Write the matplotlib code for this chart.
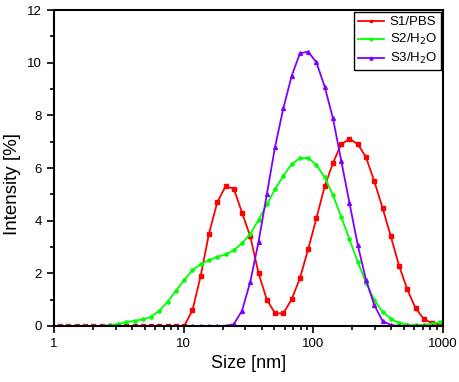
import numpy as np
import matplotlib.pyplot as plt
from matplotlib.ticker import MultipleLocator, LogLocator, FixedLocator

plt.rcParams['font.family'] = ['Liberation Sans', 'DejaVu Sans']

# size bins (nm)
size = [0.9649, 1.117, 1.294, 1.499, 1.736, 2.010, 2.328, 2.696, 3.122, 3.615,
        4.187, 4.849, 5.615, 6.503, 7.531, 8.721, 10.10, 11.70, 13.54, 15.69,
        18.17, 21.04, 24.36, 28.21, 32.67, 37.84, 43.82, 50.75, 58.77, 68.06,
        78.82, 91.28, 105.7, 122.4, 141.8, 164.2, 190.1, 220.2, 255.0, 295.3,
        342.0, 396.1, 458.7, 531.2, 615.1, 712.4, 825.0, 955.4]

s1_pbs = [0]*17 + [0.60, 1.90, 3.51, 4.70, 5.30, 5.22, 4.30, 3.40, 2.00, 1.00,
                   0.48, 0.48, 1.01, 1.81, 2.91, 4.09, 5.30, 6.19, 6.90, 7.10,
                   6.91, 6.41, 5.50, 4.49, 3.41, 2.29, 1.39, 0.67, 0.27, 0.10, 0.06]

s2_h2o = [0]*7 + [0.03, 0.08, 0.14, 0.20, 0.25, 0.35, 0.58, 0.92, 1.34, 1.75,
                  2.12, 2.35, 2.50, 2.62, 2.72, 2.88, 3.14, 3.50, 4.03, 4.62,
                  5.20, 5.70, 6.15, 6.37, 6.39, 6.11, 5.65, 4.97, 4.15, 3.29,
                  2.44, 1.65, 0.99, 0.54, 0.28, 0.12, 0.05, 0.04, 0.04, 0.09, 0.14]

s3_h2o = [0]*22 + [0.07, 0.58, 1.68, 3.20, 5.00, 6.81, 8.27, 9.49, 10.35, 10.42,
                   10.01, 9.09, 7.89, 6.28, 4.68, 3.08, 1.75, 0.80, 0.19, 0.04] + [0]*6

fig = plt.figure(figsize=(4.59, 3.82), dpi=100)
ax = fig.add_axes([0.1176, 0.1466, 0.8474, 0.8272])

ax.plot(size, s1_pbs, color='#ff0000', lw=1.3, marker='s', ms=2.3, label='S1/PBS')
ax.plot(size, s2_h2o, color='#00ff00', lw=1.3, marker='o', ms=2.3, label='S2/H$_2$O')
ax.plot(size, s3_h2o, color='#7f00ff', lw=1.3, marker='^', ms=2.8, label='S3/H$_2$O')

ax.set_xscale('log')
ax.set_xlim(1, 1000)
ax.set_ylim(0, 12)
ax.yaxis.set_major_locator(MultipleLocator(2))
ax.yaxis.set_minor_locator(MultipleLocator(1))
ax.xaxis.set_major_locator(FixedLocator([1, 10, 100, 1000]))
ax.set_xticklabels(['1', '10', '100', '1000'])
ax.xaxis.set_minor_locator(LogLocator(base=10, subs=np.arange(2, 10)))
ax.xaxis.set_minor_formatter(plt.NullFormatter())

for sp in ax.spines.values():
    sp.set_linewidth(1.5)
ax.tick_params(which='both', direction='out', top=False, right=False, labelsize=9.5, width=1.2)
ax.tick_params(which='major', length=5)
ax.tick_params(which='minor', length=3)

ax.set_xlabel('Size [nm]', fontsize=13)
ax.set_ylabel('Intensity [%]', fontsize=13.5)
ax.yaxis.set_label_coords(-0.085, 0.45)

leg = ax.legend(loc='upper right', fontsize=9.5, fancybox=False, edgecolor='black',
                framealpha=1, borderaxespad=0.15, handlelength=2.0, labelspacing=0.3,
                borderpad=0.3, handletextpad=0.4, markerscale=0.8)
leg.get_frame().set_linewidth(1.0)

fig.savefig('out.png', dpi=100)
